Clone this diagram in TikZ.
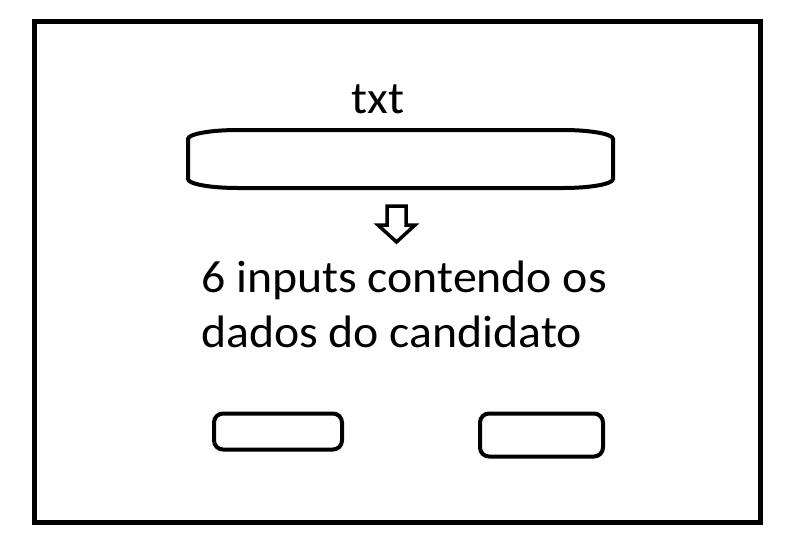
\documentclass[tikz,border=0pt]{standalone}
\usepackage{fontspec}
\setmainfont{Carlito}
\begin{document}
\begin{tikzpicture}[x=1pt,y=1pt,
  lbl/.style={inner sep=0pt,font=\fontsize{45.5}{55}\selectfont,anchor=base west,xscale=1.05},
  btn/.style={draw,line width=4pt,rounded corners=9pt,inner sep=0pt}]
\useasboundingbox (0,0) rectangle (799,-555);
\fill[white] (0,0) rectangle (799,-555);
% outer frame
\draw[line width=5pt] (34.5,-21.5) rectangle (760.5,-522);
% title
\node[lbl] (title) at (351,-113) {txt};
% top input box with elliptical corners
\draw[line width=4pt] (238,-130) -- (563,-130)
  arc[start angle=90,end angle=0,x radius=50,y radius=9] -- (613,-179)
  arc[start angle=0,end angle=-90,x radius=50,y radius=9] -- (238,-188)
  arc[start angle=270,end angle=180,x radius=50,y radius=9] -- (188,-139)
  arc[start angle=180,end angle=90,x radius=50,y radius=9] -- cycle;
\coordinate (topbox) at (400.5,-159);
% block arrow
\draw[line width=3.5pt,line join=miter] (387,-206) -- (406,-206) -- (406,-225) -- (415,-225)
  -- (396.5,-242) -- (378,-225) -- (387,-225) -- cycle;
% text
\node[lbl] (l1) at (201,-292) {6 inputs contendo os};
\node[lbl] (l2) at (201,-347) {dados do candidato};
% bottom boxes
\node[btn,minimum width=128pt,minimum height=36pt] (b1) at (278,-431.5) {};
\node[btn,minimum width=123pt,minimum height=43pt] (b2) at (541.5,-435) {};
\end{tikzpicture}
\end{document}
